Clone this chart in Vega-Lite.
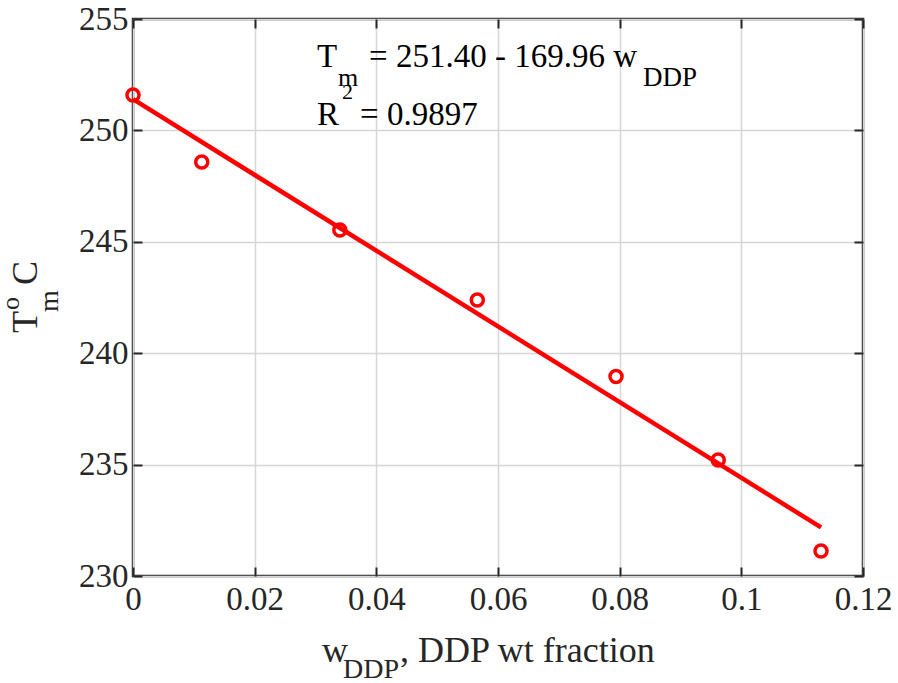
{
  "$schema": "https://vega.github.io/schema/vega-lite/v6.json",
  "width": 730,
  "height": 557,
  "autosize": {"type": "none"},
  "padding": {"left": 133, "top": 19, "right": 35, "bottom": 107},
  "background": "white",
  "config": {
    "view": {"stroke": "#262626", "strokeWidth": 2.5},
    "axis": {
      "domain": false,
      "tickColor": "#262626",
      "tickWidth": 2,
      "tickSize": -9,
      "labelFont": "Liberation Serif, Times New Roman, serif",
      "labelFontSize": 33,
      "labelColor": "#262626",
      "labelFlush": false,
      "labelOverlap": false,
      "labelExpr": "toString(datum.value)",
      "gridColor": "#d6d6d6",
      "gridWidth": 1.5,
      "title": null
    }
  },
  "resolve": {"axis": {"x": "independent", "y": "independent"}},
  "layer": [
    {
      "data": {"values": [
        {"w": 0.0, "Tm": 251.59},
        {"w": 0.0113, "Tm": 248.58},
        {"w": 0.034, "Tm": 245.53},
        {"w": 0.0566, "Tm": 242.39},
        {"w": 0.0794, "Tm": 238.95},
        {"w": 0.0962, "Tm": 235.21},
        {"w": 0.1131, "Tm": 231.12}
      ]},
      "mark": {"type": "point", "shape": "circle", "filled": false, "stroke": "#ff0000", "strokeWidth": 3.5, "size": 145, "opacity": 1},
      "encoding": {
        "x": {"field": "w", "type": "quantitative",
          "scale": {"domain": [0, 0.12], "nice": false, "zero": false},
          "axis": {"orient": "bottom", "values": [0, 0.02, 0.04, 0.06, 0.08, 0.1, 0.12], "grid": true, "labelPadding": 16}},
        "y": {"field": "Tm", "type": "quantitative",
          "scale": {"domain": [230, 255], "nice": false, "zero": false},
          "axis": {"orient": "left", "values": [230, 235, 240, 245, 250, 255], "grid": true, "labelPadding": 14}}
      }
    },
    {
      "data": {"values": [
        {"w": 0.0, "fit": 251.40},
        {"w": 0.1131, "fit": 232.18}
      ]},
      "mark": {"type": "line", "color": "#ff0000", "strokeWidth": 4.5},
      "encoding": {
        "x": {"field": "w", "type": "quantitative",
          "axis": {"orient": "top", "values": [0, 0.02, 0.04, 0.06, 0.08, 0.1, 0.12], "labels": false, "grid": false}},
        "y": {"field": "fit", "type": "quantitative",
          "axis": {"orient": "right", "values": [230, 235, 240, 245, 250, 255], "labels": false, "grid": false}}
      }
    },
    {
      "data": {"values": [{}]},
      "mark": {"type": "text", "text": "T", "fontSize": 33, "font": "Liberation Serif, Times New Roman, serif", "align": "left", "baseline": "alphabetic", "color": "black"},
      "encoding": {"x": {"datum": 0.03025, "axis": null}, "y": {"datum": 252.85, "axis": null}}
    },
    {
      "data": {"values": [{}]},
      "mark": {"type": "text", "text": "m", "fontSize": 26, "font": "Liberation Serif, Times New Roman, serif", "align": "left", "baseline": "alphabetic", "color": "black"},
      "encoding": {"x": {"datum": 0.0337, "axis": null}, "y": {"datum": 252.0, "axis": null}}
    },
    {
      "data": {"values": [{}]},
      "mark": {"type": "text", "text": "= 251.40 - 169.96 w", "fontSize": 33, "font": "Liberation Serif, Times New Roman, serif", "align": "left", "baseline": "alphabetic", "color": "black"},
      "encoding": {"x": {"datum": 0.0388, "axis": null}, "y": {"datum": 252.85, "axis": null}}
    },
    {
      "data": {"values": [{}]},
      "mark": {"type": "text", "text": "DDP", "fontSize": 27, "font": "Liberation Serif, Times New Roman, serif", "align": "left", "baseline": "alphabetic", "color": "black"},
      "encoding": {"x": {"datum": 0.08384, "axis": null}, "y": {"datum": 251.99, "axis": null}}
    },
    {
      "data": {"values": [{}]},
      "mark": {"type": "text", "text": "R", "fontSize": 33, "font": "Liberation Serif, Times New Roman, serif", "align": "left", "baseline": "alphabetic", "color": "black"},
      "encoding": {"x": {"datum": 0.03025, "axis": null}, "y": {"datum": 250.24, "axis": null}}
    },
    {
      "data": {"values": [{}]},
      "mark": {"type": "text", "text": "2", "fontSize": 22, "font": "Liberation Serif, Times New Roman, serif", "align": "left", "baseline": "alphabetic", "color": "black"},
      "encoding": {"x": {"datum": 0.03436, "axis": null}, "y": {"datum": 251.42, "axis": null}}
    },
    {
      "data": {"values": [{}]},
      "mark": {"type": "text", "text": "= 0.9897", "fontSize": 33, "font": "Liberation Serif, Times New Roman, serif", "align": "left", "baseline": "alphabetic", "color": "black"},
      "encoding": {"x": {"datum": 0.03732, "axis": null}, "y": {"datum": 250.24, "axis": null}}
    },
    {
      "data": {"values": [{}]},
      "mark": {"type": "text", "text": "w", "fontSize": 36, "font": "Liberation Serif, Times New Roman, serif", "align": "left", "baseline": "alphabetic", "color": "#262626"},
      "encoding": {"x": {"datum": 0.03107, "axis": null}, "y": {"datum": 226.14, "axis": null}}
    },
    {
      "data": {"values": [{}]},
      "mark": {"type": "text", "text": "DDP", "fontSize": 28, "font": "Liberation Serif, Times New Roman, serif", "align": "left", "baseline": "alphabetic", "color": "#262626"},
      "encoding": {"x": {"datum": 0.03452, "axis": null}, "y": {"datum": 225.4, "axis": null}}
    },
    {
      "data": {"values": [{}]},
      "mark": {"type": "text", "text": ", DDP wt fraction", "fontSize": 36, "font": "Liberation Serif, Times New Roman, serif", "align": "left", "baseline": "alphabetic", "color": "#262626"},
      "encoding": {"x": {"datum": 0.0439, "axis": null}, "y": {"datum": 226.14, "axis": null}}
    },
    {
      "data": {"values": [{}]},
      "mark": {"type": "text", "text": "T", "fontSize": 36, "angle": 270, "font": "Liberation Serif, Times New Roman, serif", "align": "left", "baseline": "alphabetic", "color": "#262626"},
      "encoding": {"x": {"datum": -0.01578, "axis": null}, "y": {"datum": 240.91, "axis": null}}
    },
    {
      "data": {"values": [{}]},
      "mark": {"type": "text", "text": "o", "fontSize": 26, "angle": 270, "font": "Liberation Serif, Times New Roman, serif", "align": "left", "baseline": "alphabetic", "color": "#262626"},
      "encoding": {"x": {"datum": -0.0188, "axis": null}, "y": {"datum": 241.94, "axis": null}}
    },
    {
      "data": {"values": [{}]},
      "mark": {"type": "text", "text": "m", "fontSize": 28, "angle": 270, "font": "Liberation Serif, Times New Roman, serif", "align": "left", "baseline": "alphabetic", "color": "#262626"},
      "encoding": {"x": {"datum": -0.01233, "axis": null}, "y": {"datum": 241.85, "axis": null}}
    },
    {
      "data": {"values": [{}]},
      "mark": {"type": "text", "text": "C", "fontSize": 36, "angle": 270, "font": "Liberation Serif, Times New Roman, serif", "align": "left", "baseline": "alphabetic", "color": "#262626"},
      "encoding": {"x": {"datum": -0.01578, "axis": null}, "y": {"datum": 243.06, "axis": null}}
    }
  ]
}
